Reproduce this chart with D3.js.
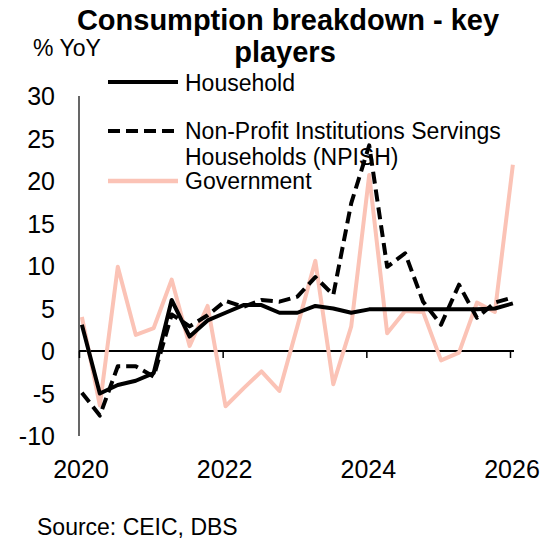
<!DOCTYPE html>
<html>
<head>
<meta charset="utf-8">
<script src="https://cdn.jsdelivr.net/npm/d3@7"></script>
<style>
  body { margin: 0; background: #fff; }
  text { font-family: "Liberation Sans", Arial, sans-serif; fill: #000; }
</style>
</head>
<body>
<div id="chart"></div>
<script>
// quarterly, 2020Q1 .. 2026Q1
var quarters = ["2020Q1","2020Q2","2020Q3","2020Q4","2021Q1","2021Q2","2021Q3","2021Q4",
                "2022Q1","2022Q2","2022Q3","2022Q4","2023Q1","2023Q2","2023Q3","2023Q4",
                "2024Q1","2024Q2","2024Q3","2024Q4","2025Q1","2025Q2","2025Q3","2025Q4","2026Q1"];
var household = [3.1,-5.0,-4.0,-3.5,-2.6,6.0,1.7,3.6,4.5,5.4,5.4,4.5,4.5,5.3,5.0,4.5,4.9,4.9,4.9,4.9,4.9,4.9,4.9,5.0,5.6];
var npish = [-4.9,-7.6,-1.8,-1.8,-3.0,4.3,2.9,4.2,5.9,5.2,6.0,5.8,6.4,8.7,6.6,17.4,24.2,9.9,11.5,5.8,3.1,7.8,3.9,5.7,6.3];
var government = [4.0,-6.4,9.9,1.9,2.7,8.4,0.6,5.3,-6.5,-4.4,-2.4,-4.7,2.9,10.6,-3.9,2.9,20.7,2.1,4.7,4.6,-1.1,-0.2,5.7,4.6,21.9];
var yTicks = [-10,-5,0,5,10,15,20,25,30];
var xTicks = [2020,2022,2024,2026];

var width = 549, height = 544;
var pink = "#FBC3B6";

var svg = d3.select("#chart").append("svg")
    .attr("width", width)
    .attr("height", height);

// quarter label -> fractional year (points sit a little past the quarter start)
function qTime(q){
    var yr = +q.slice(0,4), n = +q.slice(5);
    return yr + (n - 1) / 4 + 0.04;
}

var x = d3.scaleLinear().domain([2020, 2026]).range([79, 510]);
var y = d3.scaleLinear().domain([-10, 30]).range([436, 96]);

// title
svg.append("text").attr("x", 288).attr("y", 30).attr("text-anchor", "middle")
    .style("font-size", "29px").style("font-weight", "bold")
    .text("Consumption breakdown - key");
svg.append("text").attr("x", 285).attr("y", 62).attr("text-anchor", "middle")
    .style("font-size", "29px").style("font-weight", "bold")
    .text("players");

svg.append("text").attr("x", 33).attr("y", 56)
    .style("font-size", "23px").text("% YoY");

// y axis: line only, labels on the left
svg.append("line")
    .attr("x1", x(2020)).attr("x2", x(2020))
    .attr("y1", y(30)).attr("y2", y(-10))
    .attr("stroke", "#000").attr("stroke-width", 1.2);

svg.append("g").selectAll("text")
    .data(yTicks).enter()
    .append("text")
    .attr("x", 55)
    .attr("y", function(d){ return y(d) + 9; })
    .attr("text-anchor", "end")
    .style("font-size", "25px")
    .text(function(d){ return d; });

// x axis along zero
var xAxis = d3.axisBottom(x).tickValues(xTicks).tickSize(7).tickFormat("");
svg.append("g")
    .attr("transform", "translate(0," + y(0) + ")")
    .call(xAxis)
    .call(function(g){
        g.select(".domain").attr("stroke-width", 2.2).attr("d", "M" + x(2020) + ",0H" + (x(2026) + 4));
        g.selectAll(".tick line").attr("stroke-width", 1.5);
    });

svg.append("g").selectAll("text")
    .data(xTicks).enter()
    .append("text")
    .attr("x", function(d){ return x(d) + 2; })
    .attr("y", 478)
    .attr("text-anchor", "middle")
    .style("font-size", "25px")
    .text(function(d){ return d; });

// lines
var line = d3.line()
    .x(function(d){ return x(d.t); })
    .y(function(d){ return y(d.v); });

function pack(vals){
    return vals.map(function(v, i){ return {t: qTime(quarters[i]), v: v}; });
}

var series = [
    {name: "Government", vals: government, color: pink, dash: null},
    {name: "NPISH", vals: npish, color: "#000", dash: "12,6"},
    {name: "Household", vals: household, color: "#000", dash: null}
];

svg.append("g").selectAll("path")
    .data(series).enter()
    .append("path")
    .attr("d", function(d){ return line(pack(d.vals)); })
    .attr("fill", "none")
    .attr("stroke", function(d){ return d.color; })
    .attr("stroke-width", 4)
    .attr("stroke-linejoin", "round")
    .attr("stroke-dasharray", function(d){ return d.dash; });

// legend
var leg = svg.append("g");
leg.append("line").attr("x1", 108).attr("x2", 178).attr("y1", 82).attr("y2", 82)
    .attr("stroke", "#000").attr("stroke-width", 4);
leg.append("text").attr("x", 185).attr("y", 91).style("font-size", "23px").text("Household");

leg.append("line").attr("x1", 108).attr("x2", 178).attr("y1", 131).attr("y2", 131)
    .attr("stroke", "#000").attr("stroke-width", 4).attr("stroke-dasharray", "12,6");
leg.append("text").attr("x", 185).attr("y", 139).style("font-size", "23px").text("Non-Profit Institutions Servings");
leg.append("text").attr("x", 185).attr("y", 165).style("font-size", "23px").text("Households (NPISH)");

leg.append("line").attr("x1", 108).attr("x2", 178).attr("y1", 181).attr("y2", 181)
    .attr("stroke", pink).attr("stroke-width", 4.5);
leg.append("text").attr("x", 185).attr("y", 189).style("font-size", "23px").text("Government");

svg.append("text").attr("x", 37).attr("y", 535)
    .style("font-size", "23px").text("Source: CEIC, DBS");
</script>
</body>
</html>
